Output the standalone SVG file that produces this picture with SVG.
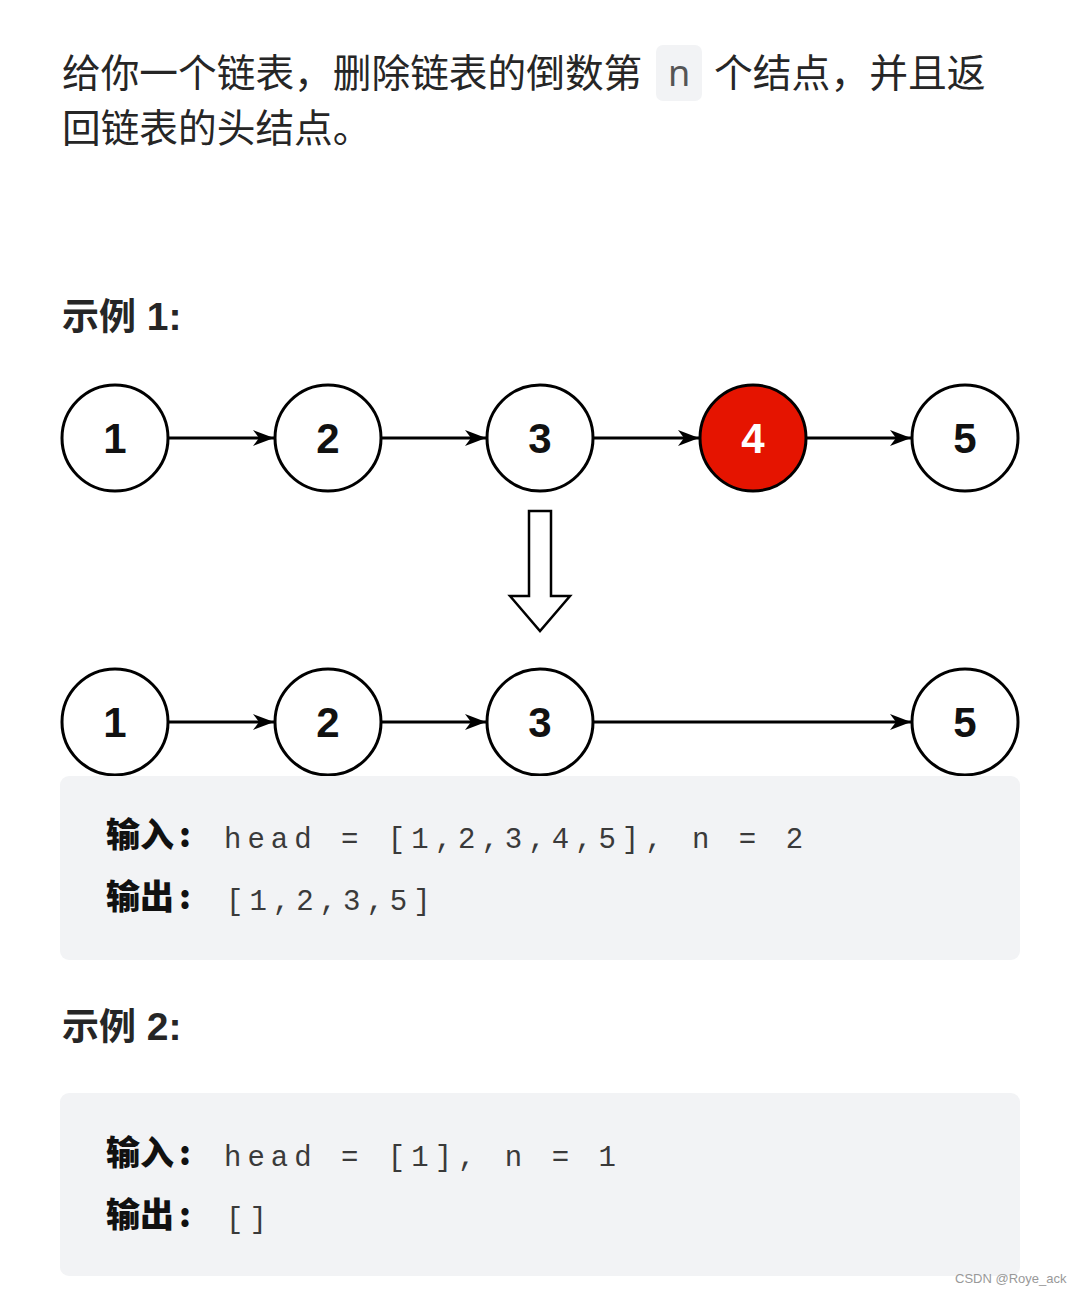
<svg xmlns="http://www.w3.org/2000/svg" width="1080" height="1295" viewBox="0 0 1080 1295">
<style>
.t{font-family:"Noto Sans CJK SC","Noto Sans",sans-serif;fill:#262626}
.h{font-family:"Noto Sans CJK SC","Noto Sans",sans-serif;font-weight:bold;font-size:37px;fill:#262626}
.hl{font-family:"Liberation Sans",Arial,sans-serif;font-weight:bold;font-size:39px}
.lb{font-family:"Noto Sans CJK SC","Noto Sans",sans-serif;font-weight:900;font-size:34px;fill:#111}
.m{font-family:"Courier New","Nimbus Mono PS","FreeMono","Liberation Mono",monospace;font-size:29px;fill:#3a3a3a;letter-spacing:6px}
.c{fill:#fff;stroke:#000;stroke-width:3}
.r{fill:#e51400;stroke:#000;stroke-width:3}
.n{font-family:"Liberation Sans",Arial,sans-serif;font-weight:bold;font-size:42px;text-anchor:middle;fill:#111}
.e{stroke:#000;stroke-width:2.8;fill:none;marker-end:url(#ah)}
.box{fill:#f2f3f5}
</style>
<defs>
<marker id="ah" markerWidth="24" markerHeight="18" refX="21" refY="9" orient="auto" markerUnits="userSpaceOnUse">
<path d="M0,1 L21,9 L0,17 L6,9 Z" fill="#000"/>
</marker>
</defs>
<rect width="1080" height="1295" fill="#fff"/>
<g id="intro">
<text class="t" x="62" y="87" font-size="38.7">给你一个链表，删除链表的倒数第</text>
<rect x="656" y="45" width="46" height="56" rx="7" fill="#f2f3f5"/>
<text x="679" y="86" font-family="'Noto Sans','Liberation Sans',sans-serif" font-size="36" fill="#555" text-anchor="middle">n</text>
<text class="t" x="714" y="87" font-size="38.8">个结点，并且返</text>
<text class="t" x="62" y="142" font-size="38.7">回链表的头结点。</text>
</g>
<text class="h" x="62" y="330">示例<tspan class="hl"> 1:</tspan></text>
<g id="connectors">
<line class="e" x1="168" y1="438" x2="274" y2="438"/>
<line class="e" x1="381" y1="438" x2="486" y2="438"/>
<line class="e" x1="593" y1="438" x2="699" y2="438"/>
<line class="e" x1="806" y1="438" x2="911" y2="438"/>
<line class="e" x1="168" y1="722" x2="274" y2="722"/>
<line class="e" x1="381" y1="722" x2="486" y2="722"/>
<line class="e" x1="593" y1="722" x2="911" y2="722"/>
<polygon points="529,511 551,511 551,596 570,596 540,631 510,596 529,596" fill="#fff" stroke="#000" stroke-width="2.5" stroke-linejoin="miter"/>
</g>
<g id="a1"><circle class="c" cx="115" cy="438" r="53"/><text class="n" x="115" y="453">1</text></g>
<g id="a2"><circle class="c" cx="328" cy="438" r="53"/><text class="n" x="328" y="453">2</text></g>
<g id="a3"><circle class="c" cx="540" cy="438" r="53"/><text class="n" x="540" y="453">3</text></g>
<g id="a4"><circle class="r" cx="753" cy="438" r="53"/><text class="n" x="753" y="453" style="fill:#fff">4</text></g>
<g id="a5"><circle class="c" cx="965" cy="438" r="53"/><text class="n" x="965" y="453">5</text></g>
<g id="b1"><circle class="c" cx="115" cy="722" r="53"/><text class="n" x="115" y="737">1</text></g>
<g id="b2"><circle class="c" cx="328" cy="722" r="53"/><text class="n" x="328" y="737">2</text></g>
<g id="b3"><circle class="c" cx="540" cy="722" r="53"/><text class="n" x="540" y="737">3</text></g>
<g id="b5"><circle class="c" cx="965" cy="722" r="53"/><text class="n" x="965" y="737">5</text></g>
<g id="ex1">
<rect class="box" x="60" y="776" width="960" height="184" rx="9"/>
<text class="lb" x="106" y="847">输入<tspan dx="5">:</tspan></text>
<text class="m" x="224" y="848">head = [1,2,3,4,5], n = 2</text>
<text class="lb" x="106" y="909">输出<tspan dx="5">:</tspan></text>
<text class="m" x="226" y="910">[1,2,3,5]</text>
</g>
<text class="h" x="62" y="1040">示例<tspan class="hl"> 2:</tspan></text>
<g id="ex2">
<rect class="box" x="60" y="1093" width="960" height="183" rx="9"/>
<text class="lb" x="106" y="1165">输入<tspan dx="5">:</tspan></text>
<text class="m" x="224" y="1166">head = [1], n = 1</text>
<text class="lb" x="106" y="1227">输出<tspan dx="5">:</tspan></text>
<text class="m" x="226" y="1228">[]</text>
</g>
<text x="955" y="1283" font-family="'Liberation Sans',Arial,sans-serif" font-size="13" fill="#999">CSDN @Roye_ack</text>
</svg>
